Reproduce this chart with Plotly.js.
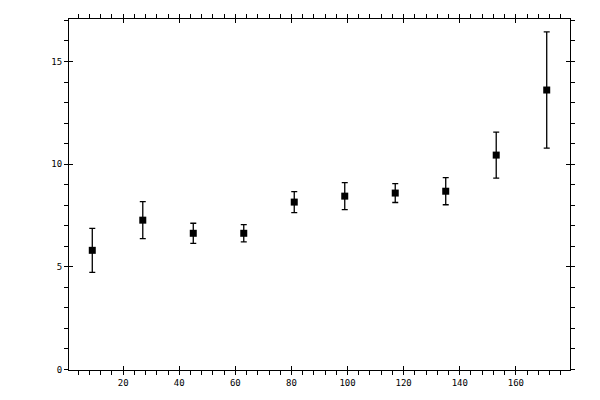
<!DOCTYPE html>
<html>
<head>
<meta charset="utf-8">
<script src="https://cdn.plot.ly/plotly-3.0.1.min.js"></script>
<style>html,body{margin:0;padding:0;background:#fff;}#chart{width:600px;height:400px;}</style>
</head>
<body>
<div id="chart"></div>
<script>
var xValues = [9, 27, 45, 63, 81, 99, 117, 135, 153, 171];
var yValues = [5.80, 7.27, 6.63, 6.63, 8.15, 8.44, 8.59, 8.68, 10.44, 13.61];
var yErrors = [1.07, 0.90, 0.49, 0.42, 0.51, 0.66, 0.46, 0.66, 1.12, 2.83];
var xTickVals = [20, 40, 60, 80, 100, 120, 140, 160];
var yTickVals = [0, 5, 10, 15];

var xRange = [0.7, 179.3];
var yRange = [-0.03, 17.07];
var tickFont = {family: 'DejaVu Sans Mono', size: 9, color: '#000'};

var main = {
  x: xValues, y: yValues, type: 'scatter', mode: 'markers',
  marker: {symbol: 'square', size: 7, color: '#000'},
  error_y: {type: 'data', array: yErrors, visible: true, color: '#000', thickness: 1.3, width: 3},
  showlegend: false, hoverinfo: 'skip'
};
var ghost = {
  x: xValues, y: yValues, type: 'scatter', mode: 'markers',
  marker: {opacity: 0}, xaxis: 'x2', yaxis: 'y2', showlegend: false, hoverinfo: 'skip'
};

function baseAxis(range, tickvals, minorDtick) {
  return {
    range: range, tickmode: 'array', tickvals: tickvals,
    ticks: 'outside', ticklen: 4, tickwidth: 1, tickcolor: '#000',
    showline: true, linecolor: '#000', linewidth: 1, mirror: 'ticks',
    showgrid: false, zeroline: false, tickfont: tickFont,
    minor: {ticks: 'outside', ticklen: 4, tick0: 0, dtick: minorDtick, tickcolor: '#000', tickwidth: 1, showgrid: false}
  };
}
var xa = baseAxis(xRange, xTickVals, 4);
var ya = baseAxis(yRange, yTickVals, 1);
var xa2 = {
  range: xRange, tickmode: 'array', tickvals: xTickVals, overlaying: 'x',
  ticks: 'inside', ticklen: 4, tickwidth: 1, tickcolor: '#000',
  showline: false, mirror: 'ticks', showgrid: false, zeroline: false, showticklabels: false
};
var ya2 = {
  range: yRange, tickmode: 'array', tickvals: yTickVals, overlaying: 'y',
  ticks: 'inside', ticklen: 4, tickwidth: 1, tickcolor: '#000',
  showline: false, mirror: 'ticks', showgrid: false, zeroline: false, showticklabels: false
};

var layout = {
  width: 600, height: 400,
  margin: {l: 69, r: 30, t: 19, b: 30, pad: 0},
  paper_bgcolor: '#fff', plot_bgcolor: '#fff',
  xaxis: xa, yaxis: ya, xaxis2: xa2, yaxis2: ya2,
  showlegend: false
};
Plotly.newPlot('chart', [main, ghost], layout, {displayModeBar: false, staticPlot: true});
</script>
</body>
</html>
